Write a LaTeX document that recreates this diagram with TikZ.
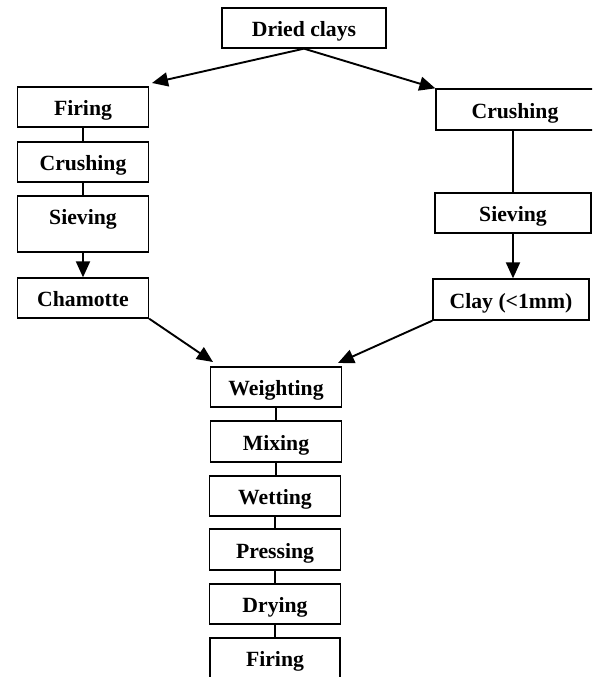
\documentclass[tikz,border=0pt]{standalone}
\usepackage{fontspec}
\setmainfont{Liberation Serif}
\usetikzlibrary{arrows.meta,calc}
\begin{document}
\begin{tikzpicture}[x=1pt,y=-1pt,
  box/.style={draw=black,line width=1.3pt,rectangle,inner sep=0pt,minimum height=40pt,
    text height=17.4pt,text depth=0pt,
    font=\fontsize{21.7}{26}\selectfont\bfseries},
  txt/.style={inner sep=0pt,text height=17.4pt,text depth=0pt,font=\fontsize{21.7}{26}\selectfont\bfseries},
  link/.style={draw=black,line width=1.9pt},
  arr/.style={link,-{Triangle[length=16pt,width=14pt]}}]
\useasboundingbox (0,0) rectangle (592,677);
\clip (0,0) rectangle (592,677);
% top
\node[box,minimum width=164pt] (dried) at (304,28) {Dried clays};
% left column
\node[box,minimum width=131pt] (lfire) at (83,107) {Firing};
\node[box,minimum width=131pt] (lcrush) at (83,162) {Crushing};
\node[box,minimum width=131pt,minimum height=56pt] (lsieve) at (83,224) {};
\node[txt] (lsievetxt) at ($(lsieve.north)+(0,20)$) {Sieving};
\node[box,minimum width=131pt] (lcham) at (83,298) {Chamotte};
% right column
\node[box,minimum width=158pt,minimum height=41pt] (rcrush) at (515,109.5) {Crushing};
\node[box,minimum width=156pt] (rsieve) at (513,213) {Sieving};
\node[box,minimum width=156pt,minimum height=41pt] (rclay) at (511,299.5) {Clay (<1mm)};
% bottom column
\node[box,minimum width=131pt] (weight) at (276,387) {Weighting};
\node[box,minimum width=131pt,minimum height=41pt] (mix) at (276,441.5) {Mixing};
\node[box,minimum width=131pt] (wet) at (275,496) {Wetting};
\node[box,minimum width=131pt,minimum height=41pt] (press) at (275,549.5) {Pressing};
\node[box,minimum width=131pt] (dry) at (275,604) {Drying};
\node[box,minimum width=130pt,minimum height=44pt] (bfire) at (275,660) {};
\node[txt] (bfiretxt) at ($(bfire.north)+(0,20)$) {Firing};
% free ends of arrows
\coordinate (ltip) at (152,83);
\coordinate (chtip) at (213,362);
\coordinate (cltip) at (338,363);
% connectors
\draw[arr] (dried.south) -- (ltip);
\draw[arr] (dried.south) -- (rcrush.north west);
\draw[link] (lfire.south) -- (lcrush.north);
\draw[link] (lcrush.south) -- (lsieve.north);
\draw[arr] (lsieve.south) -- (lcham.north);
\draw[link] (rcrush.south -| rsieve.north) -- (rsieve.north);
\draw[arr] (rsieve.south) -- (rsieve.south |- rclay.north);
\draw[arr] (lcham.south east) -- (chtip);
\draw[arr] (rclay.south west) -- (cltip);
\draw[link] (weight.south) -- (mix.north);
\draw[link] (mix.south) -- (mix.south |- wet.north);
\draw[link] (wet.south) -- (press.north);
\draw[link] (press.south) -- (dry.north);
\draw[link] (dry.south) -- (bfire.north);
\end{tikzpicture}
\end{document}
